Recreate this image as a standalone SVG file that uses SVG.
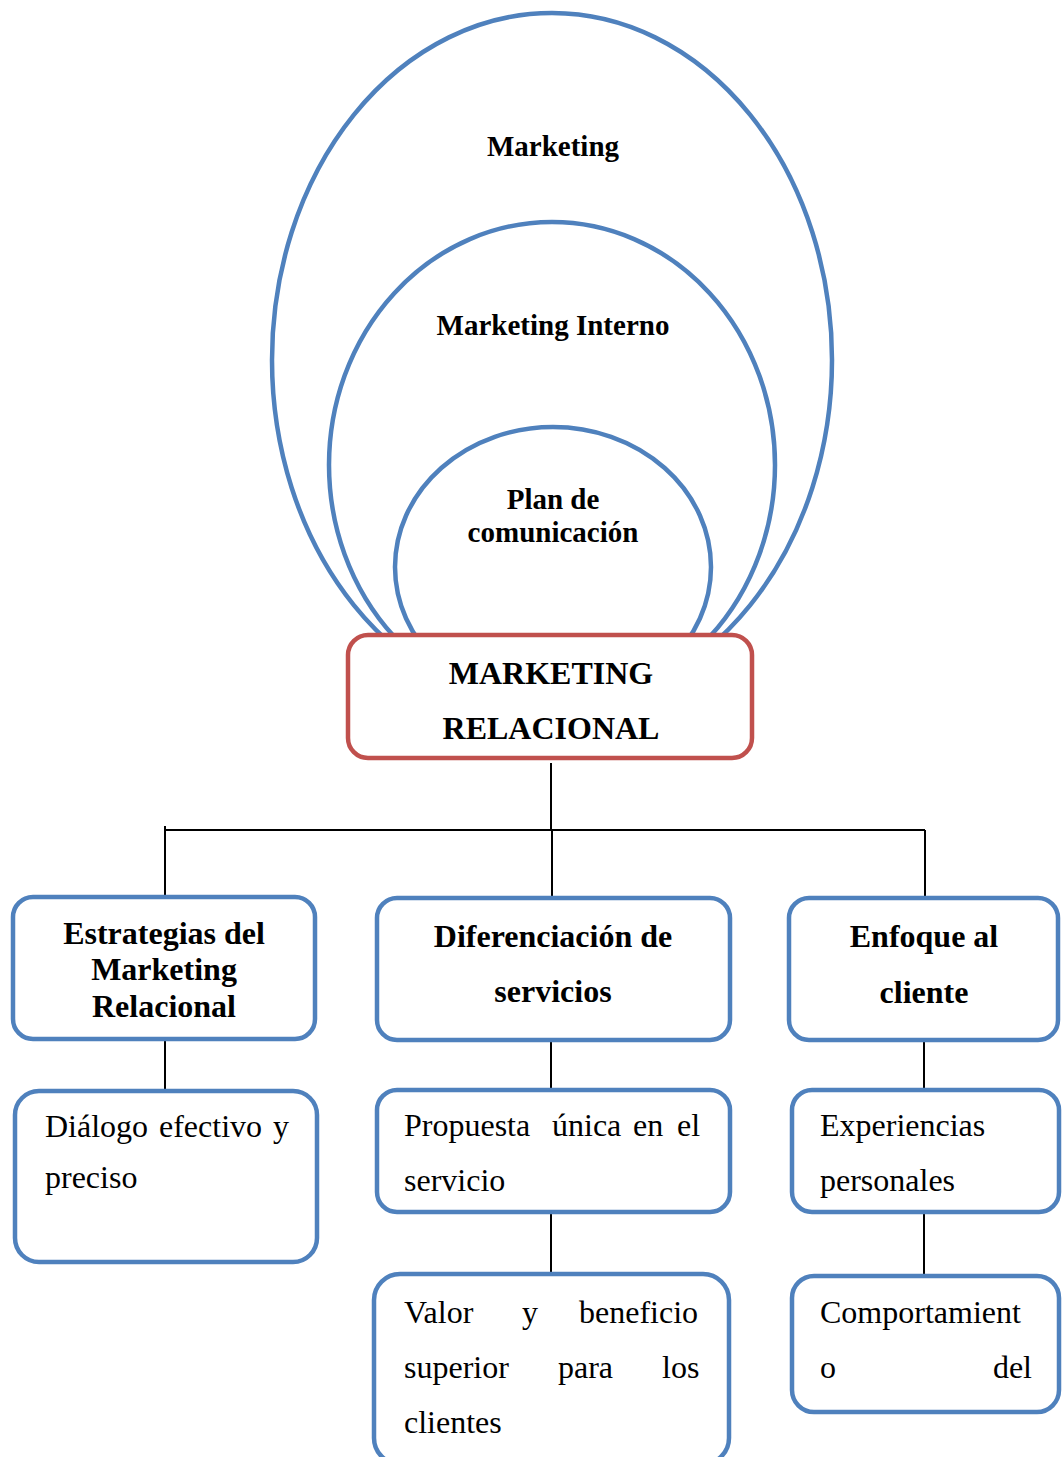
<svg xmlns="http://www.w3.org/2000/svg" width="1063" height="1457" viewBox="0 0 1063 1457">
  <style>
    .ring { fill: none; stroke: #4F81BD; stroke-width: 4.5; }
    .box { fill: #FFFFFF; stroke: #4F81BD; stroke-width: 4.5; }
    .core { fill: #FFFFFF; stroke: #C0504D; stroke-width: 4.5; }
    .link { fill: none; stroke: #000000; stroke-width: 2; }
    text { font-family: "Liberation Serif", "Times New Roman", serif; fill: #000000; }
    .ringlabel { font-size: 29px; font-weight: bold; text-anchor: middle; }
    .title { font-size: 32px; font-weight: bold; text-anchor: middle; }
    .body { font-size: 32px; }
    .end { text-anchor: end; }
  </style>
  <rect x="0" y="0" width="1063" height="1457" fill="#FFFFFF"/>

  <!-- nested scopes above the central node -->
  <g id="scope-marketing">
    <ellipse class="ring" cx="552" cy="360" rx="280" ry="347"/>
    <text class="ringlabel" x="553" y="156">Marketing</text>
  </g>
  <g id="scope-marketing-interno">
    <ellipse class="ring" cx="552" cy="465" rx="223" ry="243"/>
    <text class="ringlabel" x="553" y="335">Marketing Interno</text>
  </g>
  <g id="scope-plan-comunicacion">
    <ellipse class="ring" cx="553" cy="567" rx="158" ry="140"/>
    <text class="ringlabel" x="553" y="509">Plan de</text>
    <text class="ringlabel" x="553" y="542">comunicación</text>
  </g>

  <!-- connectors -->
  <g id="connectors">
    <line class="link" x1="551" y1="763" x2="551" y2="830"/>
    <line class="link" x1="165" y1="830" x2="925" y2="830"/>
    <line class="link" x1="165" y1="826" x2="165" y2="895"/>
    <line class="link" x1="552" y1="830" x2="552" y2="897"/>
    <line class="link" x1="925" y1="830" x2="925" y2="898"/>
    <line class="link" x1="165" y1="1040" x2="165" y2="1090"/>
    <line class="link" x1="551" y1="1041" x2="551" y2="1088"/>
    <line class="link" x1="924" y1="1037" x2="924" y2="1088"/>
    <line class="link" x1="551" y1="1213" x2="551" y2="1272"/>
    <line class="link" x1="924" y1="1213" x2="924" y2="1275"/>
  </g>

  <!-- central node -->
  <g id="marketing-relacional">
    <rect class="core" x="348" y="635" width="404" height="123" rx="20"/>
    <text class="title" x="551" y="684">MARKETING</text>
    <text class="title" x="551" y="739">RELACIONAL</text>
  </g>

  <!-- first level -->
  <g id="estrategias">
    <rect class="box" x="13" y="897" width="302" height="142" rx="20"/>
    <text class="title" x="164" y="944">Estrategias del</text>
    <text class="title" x="164" y="980">Marketing</text>
    <text class="title" x="164" y="1017">Relacional</text>
  </g>
  <g id="diferenciacion">
    <rect class="box" x="377" y="898" width="353" height="142" rx="20"/>
    <text class="title" x="553" y="947">Diferenciación de</text>
    <text class="title" x="553" y="1002">servicios</text>
  </g>
  <g id="enfoque">
    <rect class="box" x="789" y="898" width="269" height="142" rx="20"/>
    <text class="title" x="924" y="947">Enfoque al</text>
    <text class="title" x="924" y="1003">cliente</text>
  </g>

  <!-- second level -->
  <g id="dialogo">
    <rect class="box" x="15" y="1091" width="302" height="171" rx="24"/>
    <text class="body" y="1137"><tspan x="45">Diálogo</tspan><tspan x="159">efectivo</tspan><tspan x="273">y</tspan></text>
    <text class="body" x="45" y="1188">preciso</text>
  </g>
  <g id="propuesta">
    <rect class="box" x="377" y="1090" width="353" height="122" rx="20"/>
    <text class="body" y="1136"><tspan x="404">Propuesta</tspan><tspan x="552">única</tspan><tspan x="633">en</tspan><tspan x="677">el</tspan></text>
    <text class="body" x="404" y="1191">servicio</text>
  </g>
  <g id="experiencias">
    <rect class="box" x="792" y="1090" width="267" height="122" rx="20"/>
    <text class="body" x="820" y="1136">Experiencias</text>
    <text class="body" x="820" y="1191">personales</text>
  </g>

  <!-- third level -->
  <g id="valor">
    <rect class="box" x="374" y="1274" width="355" height="190" rx="26"/>
    <text class="body" y="1323"><tspan x="404">Valor</tspan><tspan x="522">y</tspan><tspan x="579">beneficio</tspan></text>
    <text class="body" y="1378"><tspan x="404">superior</tspan><tspan x="558">para</tspan><tspan x="662">los</tspan></text>
    <text class="body" x="404" y="1433">clientes</text>
  </g>
  <g id="comportamiento">
    <rect class="box" x="792" y="1276" width="267" height="136" rx="22"/>
    <text class="body" x="820" y="1323">Comportamient</text>
    <text class="body" y="1378"><tspan x="820">o</tspan><tspan class="end" x="1032">del</tspan></text>
  </g>
</svg>
